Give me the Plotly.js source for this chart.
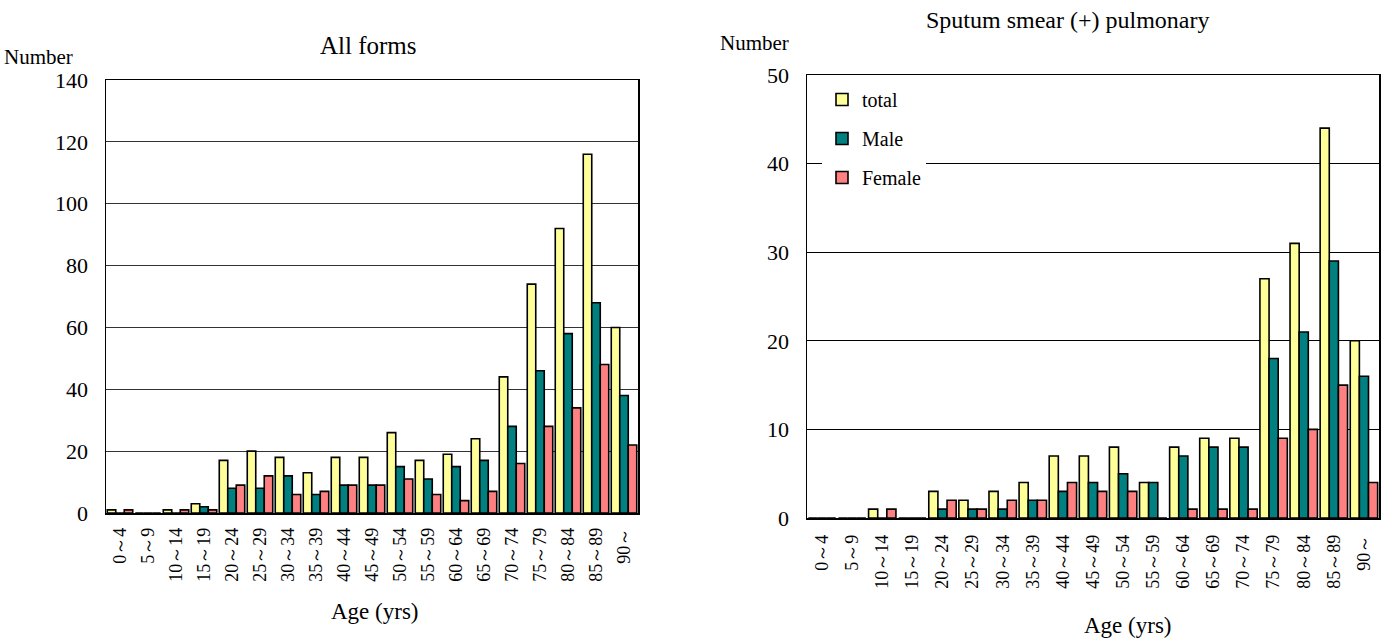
<!DOCTYPE html>
<html>
<head>
<meta charset="utf-8">
<script src="https://cdn.plot.ly/plotly-3.0.1.min.js"></script>
<style>html,body{margin:0;padding:0;background:#fff;}#chart{width:1388px;height:641px;}</style>
</head>
<body>
<div id="chart"></div>
<script>
const ageGroups = ["0～4","5～9","10～14","15～19","20～24","25～29","30～34","35～39","40～44","45～49","50～54","55～59","60～64","65～69","70～74","75～79","80～84","85～89","90～"];

// All forms
const allTotal  = [1,0,1,3,17,20,18,13,18,18,26,17,19,24,44,74,92,116,60];
const allMale   = [0,0,0,2,8,8,12,6,9,9,15,11,15,17,28,46,58,68,38];
const allFemale = [1,0,1,1,9,12,6,7,9,9,11,6,4,7,16,28,34,48,22];

// Sputum smear (+) pulmonary
const spTotal  = [0,0,1,0,3,2,3,4,7,7,8,4,8,9,9,27,31,44,20];
const spMale   = [0,0,0,0,1,1,1,2,3,4,5,4,7,8,8,18,21,29,16];
const spFemale = [0,0,1,0,2,1,2,2,4,3,3,0,1,1,1,9,10,15,4];

const seriesNames = ["total","Male","Female"];
const colors = ["#FFFF99","#008080","#FF8080"];

const W = 1388, H = 641;
const serif = "Liberation Serif";

function bar(y, i, xa, ya, show) {
  return {
    type: "bar", x: ageGroups, y: y, name: seriesNames[i],
    xaxis: xa, yaxis: ya, showlegend: show, legendgroup: seriesNames[i],
    marker: {color: colors[i], line: {color: "#000", width: 1.6}},
    hoverinfo: "x+y+name"
  };
}

const data = [
  bar(allTotal, 0, "x", "y", false),
  bar(allMale, 1, "x", "y", false),
  bar(allFemale, 2, "x", "y", false),
  bar(spTotal, 0, "x2", "y2", true),
  bar(spMale, 1, "x2", "y2", true),
  bar(spFemale, 2, "x2", "y2", true)
];

function xAxis(extra) {
  return Object.assign({
    showline: true, linecolor: "#000", linewidth: 1.5, mirror: true,
    ticks: "", zeroline: false, fixedrange: true,
    type: "category", tickangle: -90, showgrid: false,
    tickfont: {family: serif, size: 18, color: "#000"}
  }, extra);
}
function yAxis(extra) {
  return Object.assign({
    showline: true, linecolor: "#000", linewidth: 1.5, mirror: true,
    ticks: "", zeroline: false, fixedrange: true,
    showgrid: true, gridcolor: "#333", gridwidth: 1,
    tickfont: {family: serif, size: 22, color: "#000"}
  }, extra);
}

function ann(text, px, py, size, xanchor) {
  return {text: text, x: px/W, y: 1-py/H, xref: "paper", yref: "paper",
          xanchor: xanchor || "center", yanchor: "middle", showarrow: false,
          font: {family: serif, size: size, color: "#000"}};
}

const layout = {
  width: W, height: H,
  margin: {l: 0, r: 0, t: 0, b: 0},
  paper_bgcolor: "#fff", plot_bgcolor: "#fff",
  barmode: "group", bargap: 0.09,
  font: {family: serif, color: "#000"},
  xaxis: xAxis({domain: [106/W, 638/W], anchor: "y", ticklabelstandoff: 6}),
  yaxis: yAxis({domain: [1-513/H, 1-80/H], anchor: "x", range: [0,140], dtick: 20, ticklabelstandoff: 12}),
  xaxis2: xAxis({domain: [807/W, 1379/W], anchor: "y2", ticklabelstandoff: 8}),
  yaxis2: yAxis({domain: [1-518/H, 1-75/H], anchor: "x2", range: [0,50], dtick: 10, gridcolor: "#000", ticklabelstandoff: 12}),
  legend: {
    x: 822/W, y: 1-80/H, xanchor: "left", yanchor: "top",
    bgcolor: "#fff", borderwidth: 0,
    font: {family: serif, size: 20, color: "#000"},
    tracegroupgap: 10, itemwidth: 30
  },
  annotations: [
    ann("All forms", 368, 45, 25),
    ann("Sputum smear (+) pulmonary", 1068, 20, 24),
    ann("Number", 75, 57, 21, "right"),
    ann("Number", 791, 43, 21, "right"),
    ann("Age (yrs)", 375, 611, 23),
    ann("Age (yrs)", 1128, 625, 23)
  ]
};

Plotly.newPlot("chart", data, layout, {displayModeBar: false, staticPlot: true});
</script>
</body>
</html>
